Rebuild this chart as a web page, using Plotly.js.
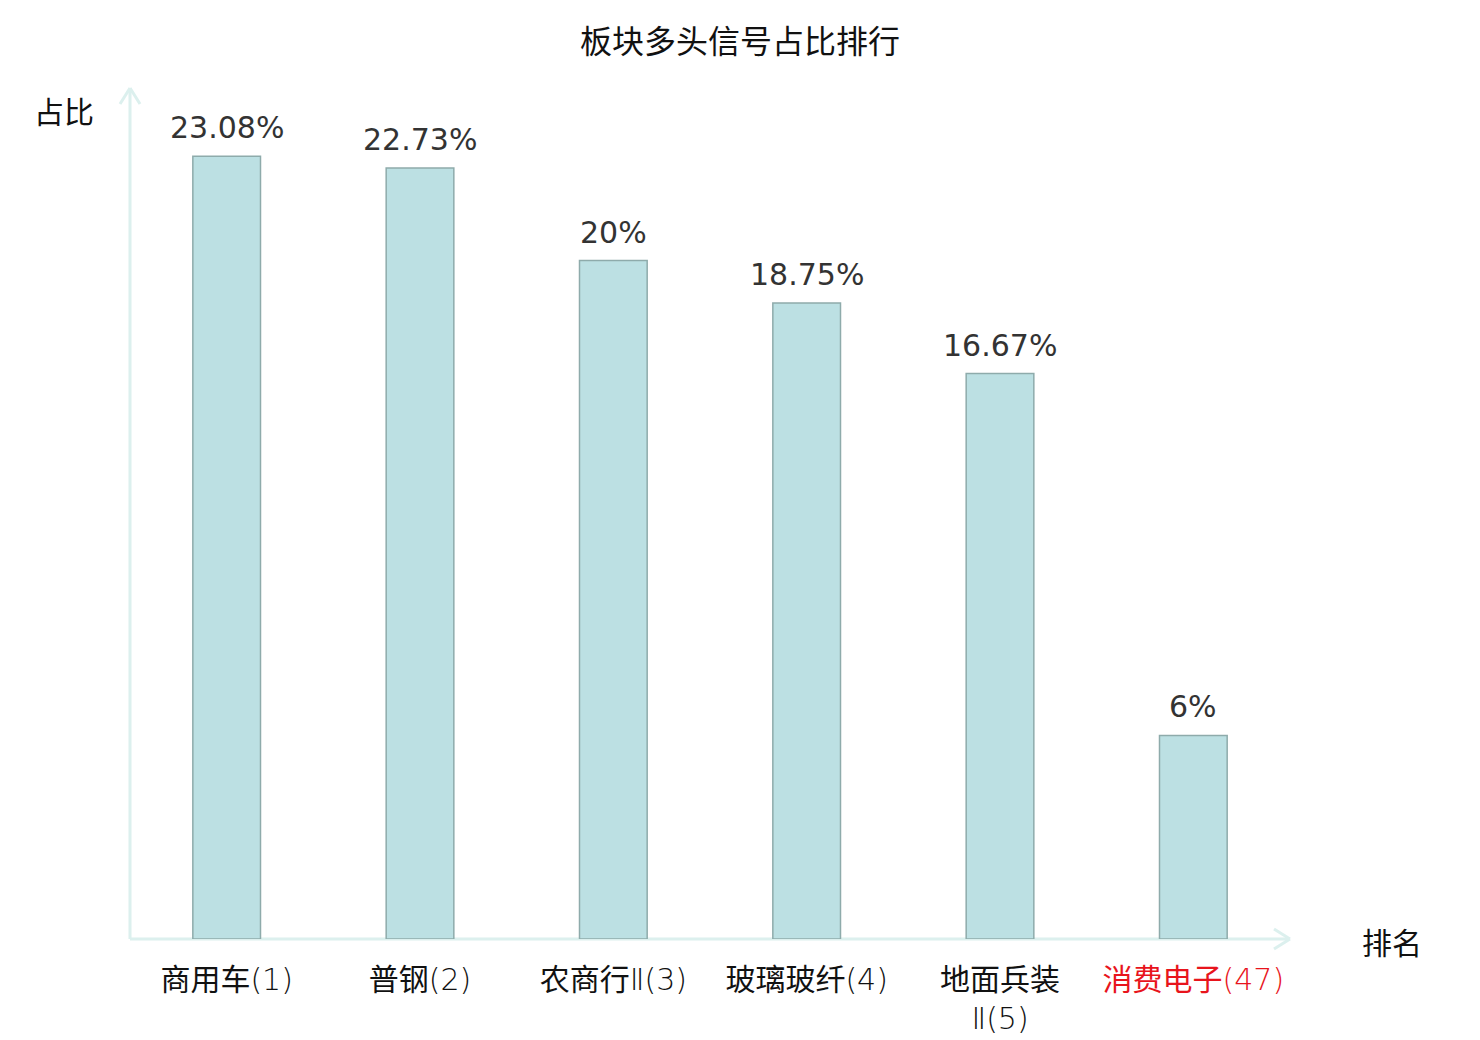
<!DOCTYPE html>
<html>
<head>
<meta charset="utf-8">
<script src="https://cdn.plot.ly/plotly-3.0.1.min.js"></script>
<style>
  html, body { margin: 0; padding: 0; background: #fff; }
  #chart { width: 1480px; height: 1040px; }
</style>
</head>
<body>
<div id="chart"></div>
<script>
// 板块多头信号占比排行
const sectors = ['商用车', '普钢', '农商行Ⅱ', '玻璃玻纤', '地面兵装<br>Ⅱ', '消费电子'];
const ranks = [1, 2, 3, 4, 5, 47];
const shares = [23.08, 22.73, 20, 18.75, 16.67, 6];
const highlight = [false, false, false, false, false, true];

(function() {
  const W = 1480, H = 1040;
  const M = { l: 130, r: 190, t: 91, b: 101 };
  const pw = W - M.l - M.r, ph = H - M.t - M.b;
  const AXIS = '#dcf0ee';
  const FONT = '"Noto Sans CJK SC", "DejaVu Sans", sans-serif';
  const TICKFONT = '"DejaVu Sans", "Noto Sans CJK SC", sans-serif';
  const thin = t => `<span style="font-weight:200">${t}</span>`;

  // px -> paper helpers for the arrow shapes
  const px = v => v / pw, py = v => v / ph;

  // name in regular weight, roman numeral and rank in a thin weight
  const tickText = sectors.map((s, i) => {
    const t = s.replace('Ⅱ', thin('Ⅱ')) + thin(`(${ranks[i]})`);
    return highlight[i] ? `<span style="color:#e8141c">${t}</span>` : t;
  });

  const trace = {
    type: 'bar',
    x: sectors.map((_, i) => i),
    y: shares,
    width: 0.35,
    marker: { color: '#bce0e3', line: { color: '#8eabab', width: 1.5 } },
    hoverinfo: 'skip'
  };

  // value labels above each bar
  const valueLabels = shares.map((v, i) => ({
    x: i, y: v, xref: 'x', yref: 'y',
    text: v + '%', showarrow: false,
    xanchor: 'center', yanchor: 'bottom', yshift: 9,
    font: { family: 'DejaVu Sans', size: 30, color: '#333' }
  }));

  const line = (x0, y0, x1, y1) => ({
    type: 'line', xref: 'paper', yref: 'paper', x0, y0, x1, y1,
    line: { color: AXIS, width: 3 }, layer: 'below'
  });

  const layout = {
    width: W, height: H,
    margin: M,
    paper_bgcolor: '#fff', plot_bgcolor: '#fff',
    showlegend: false,
    title: {
      text: '板块多头信号占比排行',
      x: 0.5, xanchor: 'center', y: 1 - 42 / H, yanchor: 'middle',
      font: { family: FONT, size: 32, color: '#111' }
    },
    xaxis: {
      range: [-0.5, sectors.length - 0.5],
      tickvals: sectors.map((_, i) => i),
      ticktext: tickText,
      showgrid: false, zeroline: false, showline: false,
      ticks: '', ticklabelstandoff: 20,
      tickfont: { family: TICKFONT, size: 30, color: '#111' }
    },
    yaxis: {
      range: [0, 25],
      showgrid: false, zeroline: false, showline: false,
      showticklabels: false, ticks: ''
    },
    shapes: [
      line(0, 0, 1, 0),
      line(0, 0, 0, 1 + py(3)),
      // x arrow head
      line(1 - px(16), py(10), 1, 0),
      line(1 - px(16), -py(10), 1, 0),
      // y arrow head
      line(-px(10), 1 + py(3) - py(16), 0, 1 + py(3)),
      line(px(10), 1 + py(3) - py(16), 0, 1 + py(3))
    ],
    annotations: valueLabels.concat([
      { text: '占比', xref: 'paper', yref: 'paper', x: px(64 - M.l), y: py(939 - 110),
        showarrow: false, xanchor: 'center', yanchor: 'middle',
        font: { family: FONT, size: 30, color: '#111' } },
      { text: '排名', xref: 'paper', yref: 'paper', x: px(1392 - M.l), y: py(939 - 941),
        showarrow: false, xanchor: 'center', yanchor: 'middle',
        font: { family: FONT, size: 30, color: '#111' } }
    ])
  };

  Plotly.newPlot('chart', [trace], layout, { displayModeBar: false, staticPlot: true });
})();
</script>
</body>
</html>
